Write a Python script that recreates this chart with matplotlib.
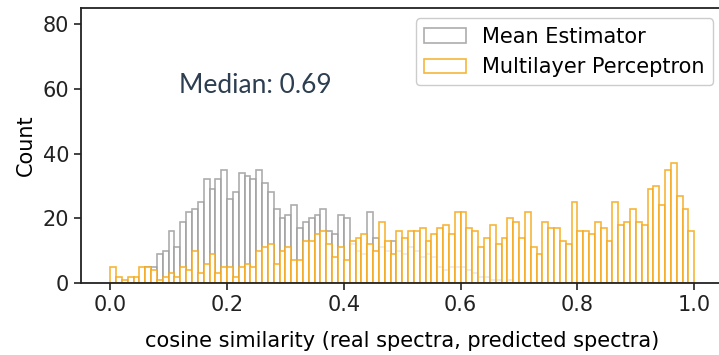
import numpy as np
import matplotlib
matplotlib.use("Agg")
import matplotlib.pyplot as plt

# histogram counts per 0.01-wide bin on [0, 1]
bin_edges = np.linspace(0.0, 1.0, 101)

mean_estimator_counts = [
    0, 0, 0, 0, 0, 0, 5, 5, 9, 10,
    16, 11, 19, 22, 23, 25, 32, 29, 32, 35,
    26, 28, 34, 33, 32, 35, 31, 28, 23, 20,
    21, 24, 17, 19, 20, 21, 23, 16, 15, 21,
    20, 12, 10, 9, 22, 14, 11, 10, 13, 10,
    9, 11, 10, 8, 9, 8, 5, 4, 5, 5,
    5, 4, 3, 2, 2, 1, 1, 0, 1, 0,
    0, 0, 0, 0, 0, 0, 0, 0, 0, 0,
    0, 0, 0, 0, 0, 0, 0, 0, 0, 0,
    0, 0, 0, 0, 0, 0, 0, 0, 0, 0,
]

mlp_counts = [
    5, 2, 1, 2, 2, 5, 5, 4, 1, 2,
    3, 2, 5, 4, 10, 3, 6, 9, 3, 5,
    5, 2, 5, 6, 5, 10, 11, 12, 6, 10,
    11, 7, 7, 13, 13, 15, 16, 12, 8, 11,
    7, 13, 14, 15, 12, 10, 19, 13, 9, 16,
    14, 16, 16, 17, 13, 15, 17, 18, 15, 22,
    22, 17, 16, 11, 14, 18, 12, 14, 20, 19,
    14, 22, 11, 9, 19, 17, 17, 13, 12, 25,
    16, 16, 15, 19, 17, 13, 25, 18, 19, 23,
    19, 18, 29, 30, 24, 35, 37, 27, 23, 16,
]

series_names = ["Mean Estimator", "Multilayer Perceptron"]
median_label = "Median: 0.69"

x_ticks = [0.0, 0.2, 0.4, 0.6, 0.8, 1.0]
y_ticks = [0, 20, 40, 60, 80]

bin_centers = (bin_edges[:-1] + bin_edges[1:]) / 2

fig = plt.figure(figsize=(7.19, 3.55), dpi=100)
ax = fig.add_axes([0.1127, 0.2028, 0.8935, 0.7747])

ax.hist(bin_centers, bins=bin_edges, weights=mean_estimator_counts,
        histtype="bar", facecolor=(1, 1, 1, 0.6),
        edgecolor=(0.62, 0.62, 0.62, 0.85), linewidth=1.2,
        label=series_names[0])
ax.hist(bin_centers, bins=bin_edges, weights=mlp_counts,
        histtype="bar", facecolor=(1, 1, 1, 0.75),
        edgecolor=(0.96, 0.66, 0.10, 0.85), linewidth=1.2,
        label=series_names[1])

ax.text(0.249, 61, median_label, fontsize=19, family="Lato",
        color="#2c3e50", ha="center", va="center")

ax.set_xlim(-0.05, 1.05)
ax.set_ylim(0, 85)
ax.set_xticks(x_ticks)
ax.set_xticklabels([f"{t:.1f}" for t in x_ticks])
ax.set_yticks(y_ticks)
ax.tick_params(labelsize=15, length=5, width=1.2, colors="#222222")
for s in ax.spines.values():
    s.set_linewidth(1.3)
    s.set_color("#222222")

ax.set_xlabel("cosine similarity (real spectra, predicted spectra)", fontsize=15, labelpad=12)
ax.set_ylabel("Count", fontsize=15, labelpad=5)

ax.legend(loc="upper right", fontsize=15, framealpha=1.0, borderaxespad=0.5)

fig.savefig("out.png", dpi=100)
